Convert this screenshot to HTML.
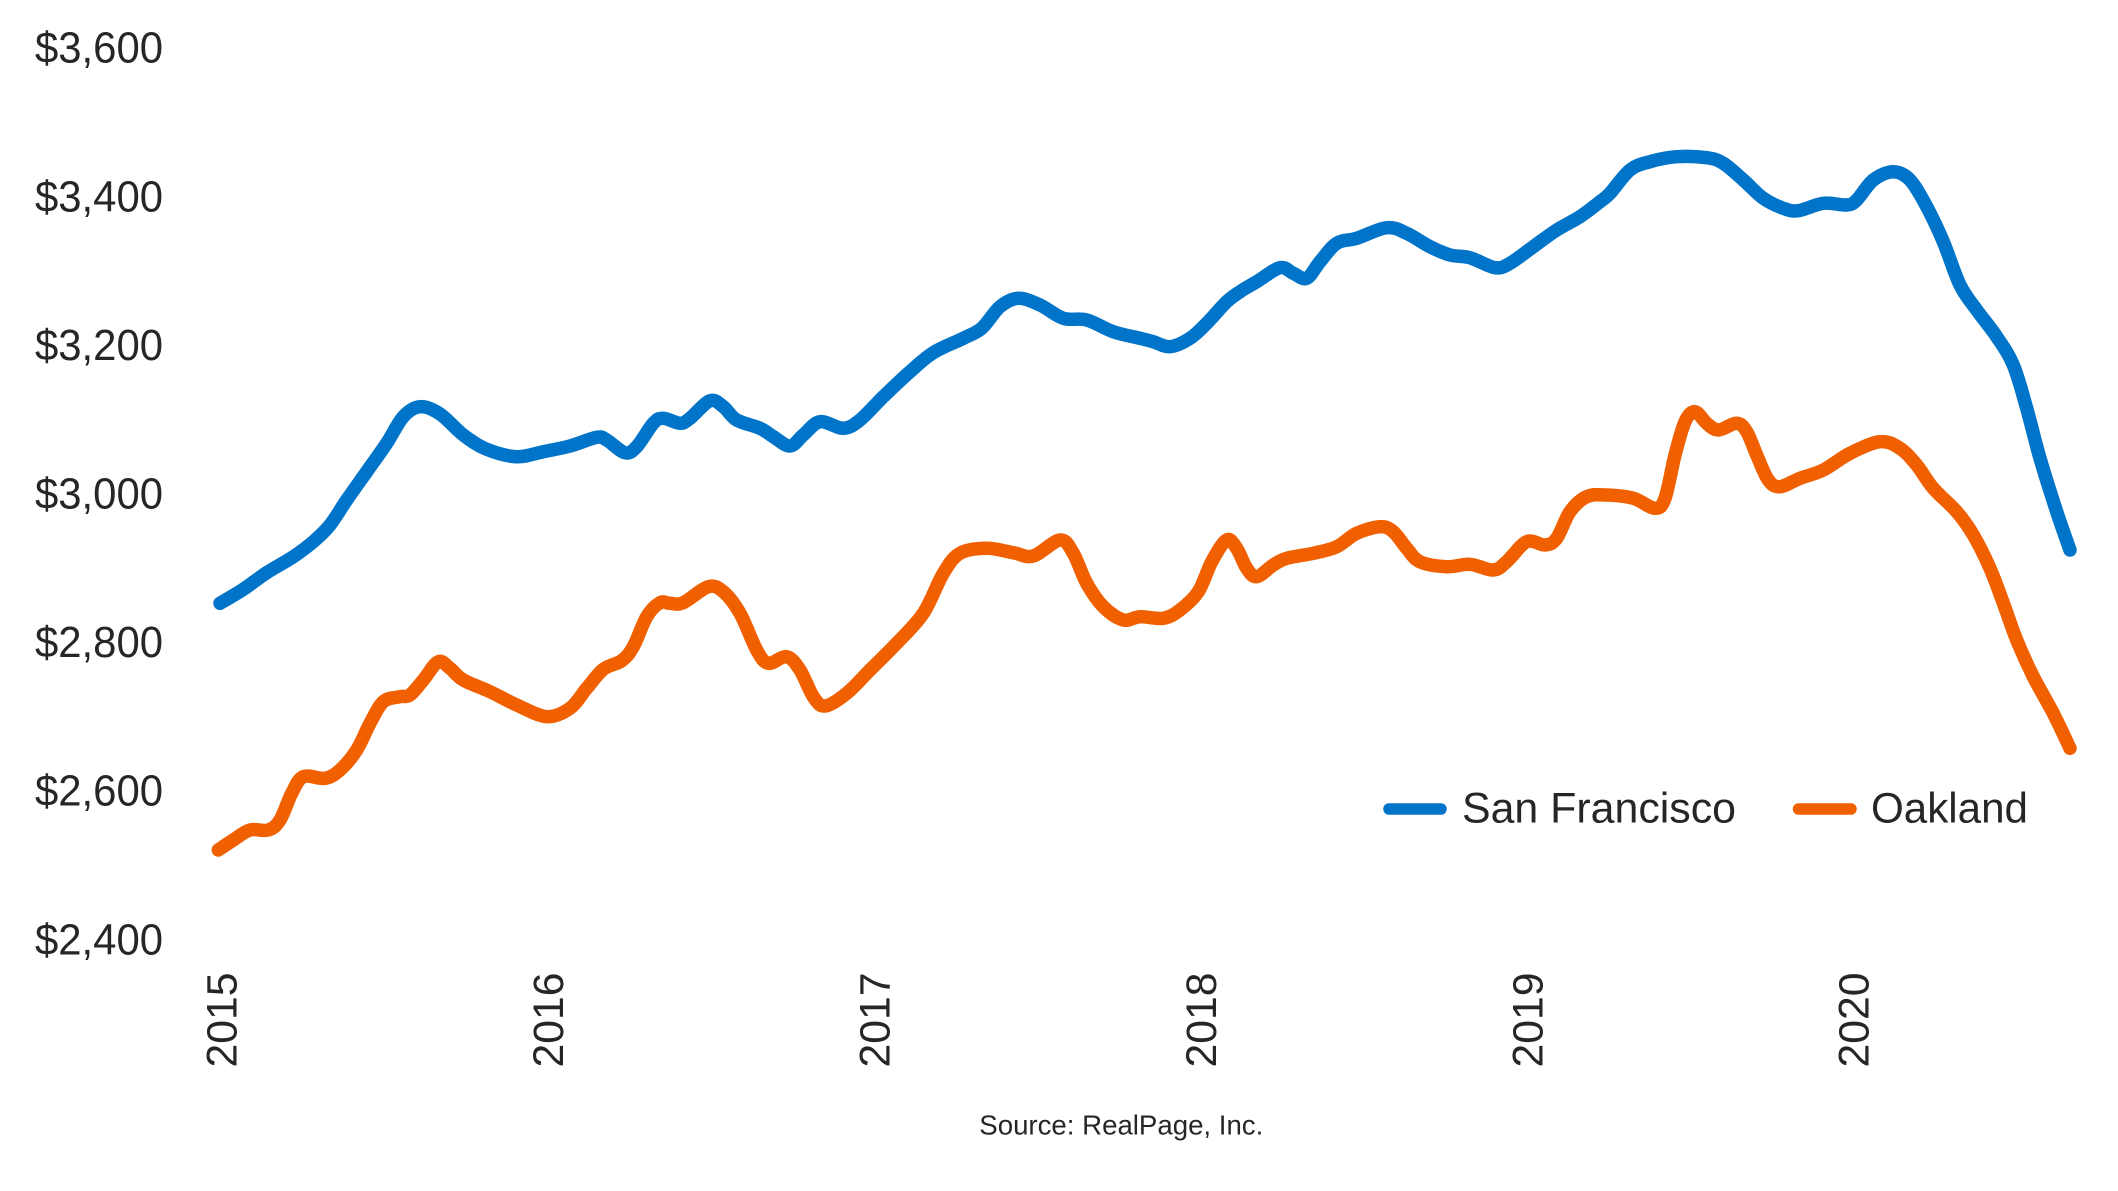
<!DOCTYPE html>
<html>
<head>
<meta charset="utf-8">
<style>
  html, body { margin: 0; padding: 0; background: #ffffff; }
  body { width: 2118px; height: 1191px; overflow: hidden; }
  svg { display: block; }
  text { font-family: "Liberation Sans", Arial, sans-serif; fill: #262626; }
</style>
</head>
<body>
<svg id="chart" width="2118" height="1191" viewBox="0 0 2118 1191" xmlns="http://www.w3.org/2000/svg">
  <rect x="0" y="0" width="2118" height="1191" fill="#ffffff"/>

  <!-- Y axis labels -->
  <g font-size="44">
    <text x="35" y="62.7" textLength="128" lengthAdjust="spacingAndGlyphs">$3,600</text>
    <text x="35" y="211.3" textLength="128" lengthAdjust="spacingAndGlyphs">$3,400</text>
    <text x="35" y="359.9" textLength="128" lengthAdjust="spacingAndGlyphs">$3,200</text>
    <text x="35" y="508.5" textLength="128" lengthAdjust="spacingAndGlyphs">$3,000</text>
    <text x="35" y="657.1" textLength="128" lengthAdjust="spacingAndGlyphs">$2,800</text>
    <text x="35" y="805.7" textLength="128" lengthAdjust="spacingAndGlyphs">$2,600</text>
    <text x="35" y="954.3" textLength="128" lengthAdjust="spacingAndGlyphs">$2,400</text>
  </g>

  <!-- X axis labels (rotated) -->
  <g font-size="43" text-anchor="end">
    <text transform="translate(236.7,972.5) rotate(-90)" textLength="95" lengthAdjust="spacingAndGlyphs">2015</text>
    <text transform="translate(563.1,972.5) rotate(-90)" textLength="95" lengthAdjust="spacingAndGlyphs">2016</text>
    <text transform="translate(889.5,972.5) rotate(-90)" textLength="95" lengthAdjust="spacingAndGlyphs">2017</text>
    <text transform="translate(1215.9,972.5) rotate(-90)" textLength="95" lengthAdjust="spacingAndGlyphs">2018</text>
    <text transform="translate(1542.3,972.5) rotate(-90)" textLength="95" lengthAdjust="spacingAndGlyphs">2019</text>
    <text transform="translate(1868.7,972.5) rotate(-90)" textLength="95" lengthAdjust="spacingAndGlyphs">2020</text>
  </g>

  <!-- San Francisco series -->
  <polyline class="series" fill="none" stroke="#0074C9" stroke-width="13.5" stroke-linejoin="round" stroke-linecap="round"
    points="220,603.3 243.3,589.3 266.7,572.7 293.3,556.7 313.3,541.7 330,525 346.7,500 366.7,471.7 386.7,443.3 403.3,416.7 420,406.7 440,414 463.3,435 486.7,449.3 516.7,456.7 543.3,451.7 570,446 596.7,437.3 606.7,440 625,452.7 636.7,446.7 653.3,423.3 663.3,418.3 680,423.3 690,418.3 710,400.7 723.3,406.7 736.7,420 760,428.3 773.3,436.7 790,446 803.3,435 820,421.7 843.3,428.3 860,420 883.3,396.7 910,371.7 933.3,352.7 963.3,338.3 981.7,328.3 1000,306.7 1018.3,298.3 1040,305 1063.3,318.3 1086.7,320 1113.3,331.7 1140,338.3 1153.3,341.7 1170,346.7 1190,338.3 1206.7,323.3 1226.7,301.7 1240,291.7 1256.7,281.7 1280,267.7 1293.3,273.3 1306.7,278.3 1320,261.7 1336.7,243.3 1356.7,238.3 1386.7,227.7 1406.7,233.3 1430,246.7 1450,255 1470,257.7 1495,267.7 1510,263.3 1533.3,246.7 1556.7,230 1580,216.7 1600,201.7 1610,193.3 1630,170 1650,161.7 1676.7,156.7 1706.7,157.7 1723.3,163.3 1743.3,180 1763.3,198.3 1783.3,208.3 1798.3,210.7 1823.3,203.3 1846.7,205 1856.7,200 1873.3,180 1893.3,171.7 1910,180 1926.7,206.7 1943.3,241.7 1960,285 1976.7,310 1996.7,336.7 2013.3,365 2026.7,408.3 2040,458.3 2056.7,511.7 2070,550"/>

  <!-- Oakland series -->
  <polyline class="series" fill="none" stroke="#F06000" stroke-width="13.5" stroke-linejoin="round" stroke-linecap="round"
    points="218.3,850 233.3,840 250,830 268.3,830 280,820 291.7,793.3 303.3,776.7 325,778.3 340,770 356.7,750 370,723.3 383.3,701.7 400,696.7 410,695 423.3,680 438.3,661.7 450,668.3 463.3,680 490,691.7 516.7,705 546.7,716.7 570,708.3 586.7,688.3 603.3,669.3 621.7,660.7 633.3,646.7 646.7,616.7 660,602.7 670,603.3 683.3,602.7 708.3,586.7 723.3,591.7 740,613.3 756.7,650 768.3,663.3 786.7,656.7 800,670 813.3,696.7 825,706 846.7,693.3 870,670 896.7,643.3 923.3,613.3 943.3,573.3 960,553.3 986.7,548.3 1013.3,552.7 1033.3,556 1060,540 1073.3,553.3 1086.7,583.3 1103.3,606.7 1123.3,620 1140,616.7 1163.3,618.3 1180,610 1198.3,591.7 1211.7,561.7 1226.7,540 1236.7,548.3 1246.7,568.3 1256.7,576.7 1273.3,565 1286.7,558.3 1313.3,553.3 1336.7,546.7 1356.7,533.3 1380,526.7 1393.3,531.7 1406.7,548.3 1420,561.7 1446.7,566.7 1470,564.3 1493.3,570 1506.7,561.7 1526.7,541.7 1545,545 1556.7,538.3 1570,511.7 1586.7,496.7 1606.7,495 1633.3,498.3 1655,508.3 1665,498.3 1675,455 1685,421.7 1695,411.7 1706.7,423.3 1718.3,430 1736.7,423.3 1746.7,431.7 1756.7,455 1768.3,480 1780,486.7 1800,478.3 1823.3,470 1850,453.3 1880,441.7 1900,448.3 1916.7,465 1933.3,488.3 1956.7,511.7 1973.3,535 1990,568.3 2003.3,603 2016.7,640 2033.3,676.7 2053.3,713.3 2070,748.3"/>

  <!-- Legend -->
  <line x1="1389" y1="809" x2="1441" y2="809" stroke="#0074C9" stroke-width="11.5" stroke-linecap="round"/>
  <text x="1462" y="822.3" font-size="43" textLength="274" lengthAdjust="spacingAndGlyphs">San Francisco</text>
  <line x1="1798.5" y1="809" x2="1851" y2="809" stroke="#F06000" stroke-width="11.5" stroke-linecap="round"/>
  <text x="1871" y="822.3" font-size="43" textLength="157" lengthAdjust="spacingAndGlyphs">Oakland</text>

  <!-- Source -->
  <text x="979.3" y="1134.3" font-size="28" textLength="284" lengthAdjust="spacingAndGlyphs">Source: RealPage, Inc.</text>
</svg>
<script>
(function () {
  var NS = "http://www.w3.org/2000/svg";
  var lines = document.querySelectorAll("polyline.series");
  for (var i = 0; i < lines.length; i++) {
    var pl = lines[i];
    var raw = pl.getAttribute("points").trim().split(/\s+/);
    var p = raw.map(function (s) { var a = s.split(","); return [parseFloat(a[0]), parseFloat(a[1])]; });
    var d = "M" + p[0][0] + "," + p[0][1];
    for (var k = 0; k < p.length - 1; k++) {
      var p0 = p[k - 1] || p[k], p1 = p[k], p2 = p[k + 1], p3 = p[k + 2] || p2;
      var t = 1 / 6;
      var c1x = p1[0] + (p2[0] - p0[0]) * t, c1y = p1[1] + (p2[1] - p0[1]) * t;
      var c2x = p2[0] - (p3[0] - p1[0]) * t, c2y = p2[1] - (p3[1] - p1[1]) * t;
      d += " C" + c1x.toFixed(2) + "," + c1y.toFixed(2) + " " + c2x.toFixed(2) + "," + c2y.toFixed(2) + " " + p2[0] + "," + p2[1];
    }
    var path = document.createElementNS(NS, "path");
    path.setAttribute("d", d);
    path.setAttribute("fill", "none");
    path.setAttribute("stroke", pl.getAttribute("stroke"));
    path.setAttribute("stroke-width", pl.getAttribute("stroke-width"));
    path.setAttribute("stroke-linejoin", "round");
    path.setAttribute("stroke-linecap", "round");
    pl.parentNode.replaceChild(path, pl);
  }
})();
</script>
</body>
</html>
